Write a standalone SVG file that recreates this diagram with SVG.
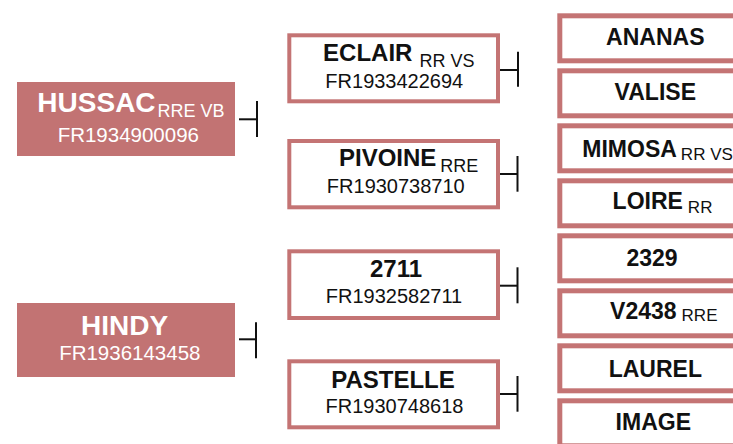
<svg xmlns="http://www.w3.org/2000/svg" width="733" height="444" viewBox="0 0 733 444">
<style>
text{font-family:"Liberation Sans",Arial,sans-serif}
.filled{fill:#c27373}
.mid{fill:#fff;stroke:#c47474;stroke-width:4}
.leaf{fill:#fff;stroke:#c47474;stroke-width:5}
.w{fill:#fff}
.k{fill:#111}
.b{font-weight:bold}
.c{text-anchor:middle}
.conn line{stroke:#111;stroke-width:2}
</style>
<rect width="733" height="444" fill="#fff"/>
<g id="node-hussac">
<rect class="filled" x="17" y="82" width="218" height="74"/>
<text class="w c" x="131" y="111.7"><tspan class="b" font-size="28">HUSSAC</tspan><tspan font-size="18" dx="2" dy="5.5">RRE VB</tspan></text>
<text class="w c" x="128.3" y="142" font-size="20.5">FR1934900096</text>
</g>
<g id="node-hindy">
<rect class="filled" x="17" y="303" width="218" height="74"/>
<text class="w c b" x="124.5" y="335" font-size="28">HINDY</text>
<text class="w c" x="129.8" y="360" font-size="20.5">FR1936143458</text>
</g>
<g id="node-eclair">
<rect class="mid" x="289.3" y="35.3" width="208.7" height="66"/>
<text class="k c" x="398.8" y="60.7"><tspan class="b" font-size="24">ECLAIR</tspan><tspan font-size="18" dx="7" dy="6">RR VS</tspan></text>
<text class="k c" x="394.3" y="87.7" font-size="20">FR1933422694</text>
</g>
<g id="node-pivoine">
<rect class="mid" x="289.3" y="141" width="208.7" height="66.3"/>
<text class="k c" x="408.7" y="165.7"><tspan class="b" font-size="24">PIVOINE</tspan><tspan font-size="18" dx="4" dy="6">RRE</tspan></text>
<text class="k c" x="395.8" y="193.3" font-size="20">FR1930738710</text>
</g>
<g id="node-2711">
<rect class="mid" x="289.3" y="251.3" width="208.7" height="66.7"/>
<text class="k c b" x="396" y="277.3" font-size="24">2711</text>
<text class="k c" x="394" y="303.3" font-size="20">FR1932582711</text>
</g>
<g id="node-pastelle">
<rect class="mid" x="289.3" y="361.3" width="208.7" height="66"/>
<text class="k c b" x="393" y="388.3" font-size="24">PASTELLE</text>
<text class="k c" x="394.5" y="413.3" font-size="20">FR1930748618</text>
</g>
<g id="node-ananas">
<rect class="leaf" x="559.8" y="15.8" width="196" height="45"/>
<text class="k c b" x="655.3" y="45" font-size="23">ANANAS</text>
</g>
<g id="node-valise">
<rect class="leaf" x="559.8" y="70.8" width="196" height="45"/>
<text class="k c b" x="655.3" y="100" font-size="23">VALISE</text>
</g>
<g id="node-mimosa">
<rect class="leaf" x="559.8" y="125.8" width="196" height="45"/>
<text class="k" x="582.3" y="156.7"><tspan class="b" font-size="23">MIMOSA</tspan><tspan font-size="17" dx="4" dy="3">RR VS</tspan></text>
</g>
<g id="node-loire">
<rect class="leaf" x="559.8" y="180.8" width="196" height="45"/>
<text class="k c" x="662.5" y="209.3"><tspan class="b" font-size="23">LOIRE</tspan><tspan font-size="17" dx="5" dy="4">RR</tspan></text>
</g>
<g id="node-2329">
<rect class="leaf" x="559.8" y="235.8" width="196" height="45"/>
<text class="k c b" x="652" y="265.7" font-size="23">2329</text>
</g>
<g id="node-v2438">
<rect class="leaf" x="559.8" y="290.8" width="196" height="45"/>
<text class="k c" x="663.8" y="319.3"><tspan class="b" font-size="23">V2438</tspan><tspan font-size="17" dx="5" dy="1.5">RRE</tspan></text>
</g>
<g id="node-laurel">
<rect class="leaf" x="559.8" y="345.8" width="196" height="45"/>
<text class="k c b" x="655.3" y="377.3" font-size="23">LAUREL</text>
</g>
<g id="node-image">
<rect class="leaf" x="559.8" y="400.8" width="196" height="45"/>
<text class="k c b" x="653.3" y="430" font-size="23">IMAGE</text>
</g>
<g id="connectors" class="conn">
<line x1="239" y1="119.3" x2="257" y2="119.3"/>
<line x1="257" y1="101" x2="257" y2="137"/>
<line x1="239" y1="339.3" x2="256" y2="339.3"/>
<line x1="256" y1="322.3" x2="256" y2="358.3"/>
<line x1="500" y1="70" x2="518" y2="70"/>
<line x1="518" y1="51.7" x2="518" y2="86.7"/>
<line x1="500" y1="174" x2="517.5" y2="174"/>
<line x1="517.5" y1="156" x2="517.5" y2="191.7"/>
<line x1="500" y1="285.7" x2="517.5" y2="285.7"/>
<line x1="517.5" y1="267.3" x2="517.5" y2="303.3"/>
<line x1="500" y1="394" x2="517.5" y2="394"/>
<line x1="517.5" y1="376" x2="517.5" y2="411.7"/>
</g>
</svg>
